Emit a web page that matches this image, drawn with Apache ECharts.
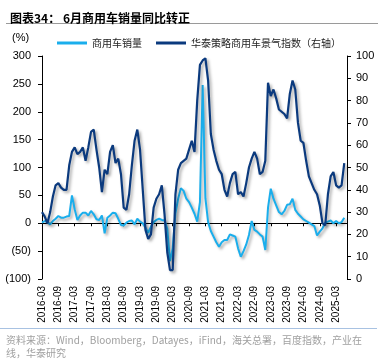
<!DOCTYPE html>
<html>
<head>
<meta charset="utf-8">
<script src="https://cdn.jsdelivr.net/npm/echarts@6/dist/echarts.min.js"></script>
<style>html,body{margin:0;padding:0;background:#fff;}#c{width:385px;height:364px;}</style>
</head>
<body>
<div id="c"></div>
<script>
// Month categories 2016-03 .. 2025-07 (last one is an empty slot at the axis end)
const startYear = 2016, startMonth = 3, monthCount = 113;
const categories = [];
for (let k = 0; k < monthCount; k++) {
  const m = startMonth - 1 + k;
  const y = startYear + Math.floor(m / 12);
  const mm = (m % 12) + 1;
  categories.push(y + '-' + (mm < 10 ? '0' + mm : mm));
}

// 商用车销量 同比 (%), left axis
const cvSales = [
  1, 4, 2, -2, 4, 8, 13, 10, 10, 12,
  13, 50, 25, 6, 14, 19, 19, 14, 22, 16,
  7, 6, 14, -18, 10, 14, 19, 18, 8, -3,
  -4, 1, 4, 5, -2, 8, 3, 0, -8, -17,
  -6, 2, 6, 8, 6, 5, -10, -68, -45, 18,
  44, 63, 58, 44, 38, 28, 17, 3, 38, 248,
  45, 2, -14, -24, -34, -42, -34, -30, -30, -20,
  -22, -24, -45, -60, -50, -38, -21, 4, -12, -15,
  -20, -24, -48, 28, 62, 44, 32, 20, 16, 22,
  33, 34, 44, 24, 17, 12, 7, 4, 1, -2,
  -5, -22, -15, -9, 1, 3, 5, 0, 4, 0,
  2, 10
];

// 华泰策略商用车景气指数, right axis
const cvIndex = [
  30, 28, 25, 30, 37, 42, 43, 41, 40, 40,
  51, 57, 59, 56, 57, 59, 53, 59, 66, 67,
  58, 50, 39, 49, 47, 57, 60, 52, 54, 47,
  32, 31, 38, 51, 62, 67, 58, 40, 22, 18,
  20, 32, 36, 38, 42, 29, 12, 4, 4, 38,
  49, 52, 53, 54, 58, 62, 57, 80, 96, 98,
  99, 89, 65, 58, 53, 49, 47, 40, 37, 43,
  47, 48, 38, 39, 37, 43, 50, 54, 57, 54,
  47, 48, 53, 88, 82, 85, 81, 76, 75, 74,
  72, 83, 89, 85, 70, 62, 61, 53, 46, 43,
  40, 38, 33, 25, 24, 38, 46, 48, 42, 41,
  42, 52
];

const leftTicks = {min: -100, max: 300, interval: 50};
const rightTicks = {min: 0, max: 100, interval: 10};

const seriesNames = ['商用车销量', '华泰策略商用车景气指数（右轴）'];
const titleText = '图表34： 6月商用车销量同比转正';
const sourceLines = ['资料来源：Wind，Bloomberg，Datayes，iFind，海关总署，百度指数，产业在', '线，华泰研究'];

const latin = '"Liberation Sans", Arial, "Noto Sans CJK SC", sans-serif';
const cjk = '"Noto Sans CJK SC", "Liberation Sans", sans-serif';

const chart = echarts.init(document.getElementById('c'), null, {renderer: 'canvas'});
const shadow = {shadowColor: 'rgba(0,0,0,0.35)', shadowBlur: 3, shadowOffsetX: 2, shadowOffsetY: 2};

chart.setOption({
  animation: false,
  backgroundColor: '#fff',
  title: {
    text: titleText, left: 5, top: 7,
    textStyle: {fontSize: 12, fontWeight: 'bold', color: '#000', fontFamily: cjk}
  },
  legend: {
    left: 52, top: 33, itemGap: 14, itemWidth: 30, itemHeight: 3,
    icon: 'rect',
    textStyle: {fontSize: 10, color: '#222', fontFamily: cjk},
    data: seriesNames
  },
  grid: {left: 42, right: 38, top: 56, bottom: 85, containLabel: false},
  xAxis: [
    {
      type: 'category', data: categories, boundaryGap: false, position: 'bottom',
      axisLine: {show: false, onZero: false}, axisTick: {show: false},
      axisLabel: {rotate: 90, interval: 5, fontSize: 10, color: '#000', margin: 7, fontFamily: latin},
      splitLine: {show: false}
    },
    {
      type: 'category', data: categories, boundaryGap: false, position: 'bottom',
      axisLine: {show: true, onZero: true, onZeroAxisIndex: 0, lineStyle: {color: '#000', width: 1}},
      axisTick: {show: true, interval: 5, length: 3, inside: false, lineStyle: {color: '#000'}},
      axisLabel: {show: false}, splitLine: {show: false}
    }
  ],
  yAxis: [
    {
      type: 'value', min: leftTicks.min, max: leftTicks.max, interval: leftTicks.interval, position: 'left',
      axisLine: {show: true, lineStyle: {color: '#000', width: 1}},
      axisTick: {show: true, length: 4, lineStyle: {color: '#000'}},
      axisLabel: {fontSize: 11, color: '#000', margin: 11, fontFamily: latin,
        formatter: v => v < 0 ? '(' + Math.abs(v) + ')' : String(v)},
      splitLine: {show: false}
    },
    {
      type: 'value', min: rightTicks.min, max: rightTicks.max, interval: rightTicks.interval, position: 'right',
      axisLine: {show: true, lineStyle: {color: '#000', width: 1}},
      axisTick: {show: true, length: 4, lineStyle: {color: '#000'}},
      axisLabel: {fontSize: 11, color: '#000', margin: 9, fontFamily: latin},
      splitLine: {show: false}
    }
  ],
  graphic: [
    {type: 'line', shape: {x1: 6, y1: 23.5, x2: 378, y2: 23.5}, style: {stroke: '#9a9a9a', lineWidth: 1}},
    {type: 'text', x: 12, y: 38, style: {text: '(%)', font: '11px ' + latin, fill: '#000', verticalAlign: 'middle'}},
    {type: 'line', shape: {x1: 0, y1: 328.5, x2: 377, y2: 328.5}, style: {stroke: '#a8c2e2', lineWidth: 1}},
    {type: 'text', x: 6, y: 340, style: {text: sourceLines[0], font: '10px ' + cjk, fill: '#a0a0a0', verticalAlign: 'middle'}},
    {type: 'text', x: 6, y: 353, style: {text: sourceLines[1], font: '10px ' + cjk, fill: '#a0a0a0', verticalAlign: 'middle'}}
  ],
  series: [
    {
      name: seriesNames[0], type: 'line', xAxisIndex: 0, yAxisIndex: 0, data: cvSales,
      showSymbol: false, symbol: 'none', color: '#1aaeec',
      lineStyle: Object.assign({width: 2, color: '#1aaeec'}, shadow)
    },
    {
      name: seriesNames[1], type: 'line', xAxisIndex: 0, yAxisIndex: 1, data: cvIndex,
      showSymbol: false, symbol: 'none', color: '#0b3a7e',
      lineStyle: Object.assign({width: 2.2, color: '#0b3a7e'}, shadow)
    }
  ]
});
</script>
</body>
</html>
